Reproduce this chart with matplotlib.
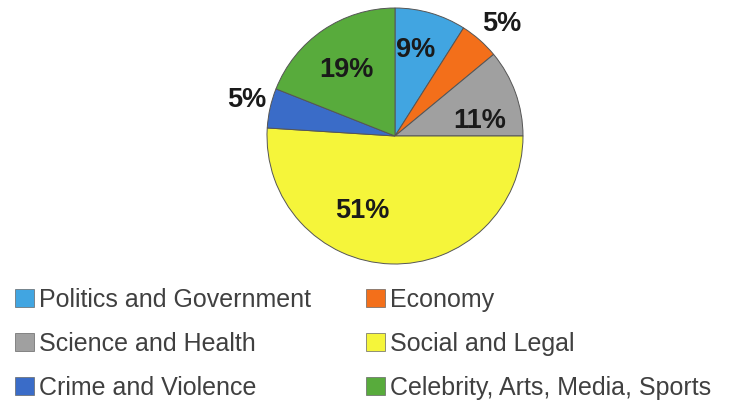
import matplotlib.pyplot as plt
import numpy as np

# Data
categories = ['Politics and Government', 'Economy', 'Science and Health',
              'Social and Legal', 'Crime and Violence', 'Celebrity, Arts, Media, Sports']
shares = [9, 5, 11, 51, 5, 19]
colors = ['#41a5e1', '#f36f1a', '#a0a0a0', '#f5f53a', '#3a6cc8', '#58ab3c']

# label placement (radius, angle shift in degrees) per slice
label_r = [0.69, 1.21, 0.67, 0.64, 1.19, 0.64]
label_shift = [2.5, -2.3, -9.7, -21.9, -1.1, 1.8]

plt.rcParams['font.family'] = ['Liberation Sans', 'DejaVu Sans']

fig = plt.figure(figsize=(7.29, 4.04), dpi=100)
fig.patch.set_facecolor('white')

# pie axes: centre (395,136) px, radius 128 px
ax = fig.add_axes([267 / 729, (404 - 264) / 404, 256 / 729, 256 / 404])
wedges, texts, autotexts = ax.pie(
    shares, colors=colors, startangle=90, counterclock=False,
    autopct='%.0f%%', pctdistance=0.65,
    wedgeprops=dict(edgecolor='#555555', linewidth=0.7),
    textprops=dict(fontsize=19.5, fontweight='bold', color='#1a1a1a'))
ax.set_xlim(-1, 1)
ax.set_ylim(-1, 1)
ax.set_aspect('equal')

for w, t, r, s in zip(wedges, autotexts, label_r, label_shift):
    ang = np.deg2rad((w.theta1 + w.theta2) / 2 + s)
    t.set_position((r * np.cos(ang), r * np.sin(ang)))
    t.set_clip_on(False)

# legend: rows Politics|Economy, Science|Social, Crime|Celebrity
order = [0, 2, 4, 1, 3, 5]
leg = fig.legend([wedges[i] for i in order], [categories[i] for i in order],
                 ncol=2, loc='upper left', bbox_to_anchor=(15 / 729, 0.288),
                 frameon=False, fontsize=18, borderpad=0, borderaxespad=0,
                 handlelength=0.76, handleheight=0.76, handletextpad=0.2,
                 labelspacing=0.8, columnspacing=2.2)
for txt in leg.get_texts():
    txt.set_color('#404040')
for h in leg.legend_handles:
    h.set_edgecolor('#666666')
    h.set_linewidth(0.5)

fig.savefig('out.png', dpi=100)
